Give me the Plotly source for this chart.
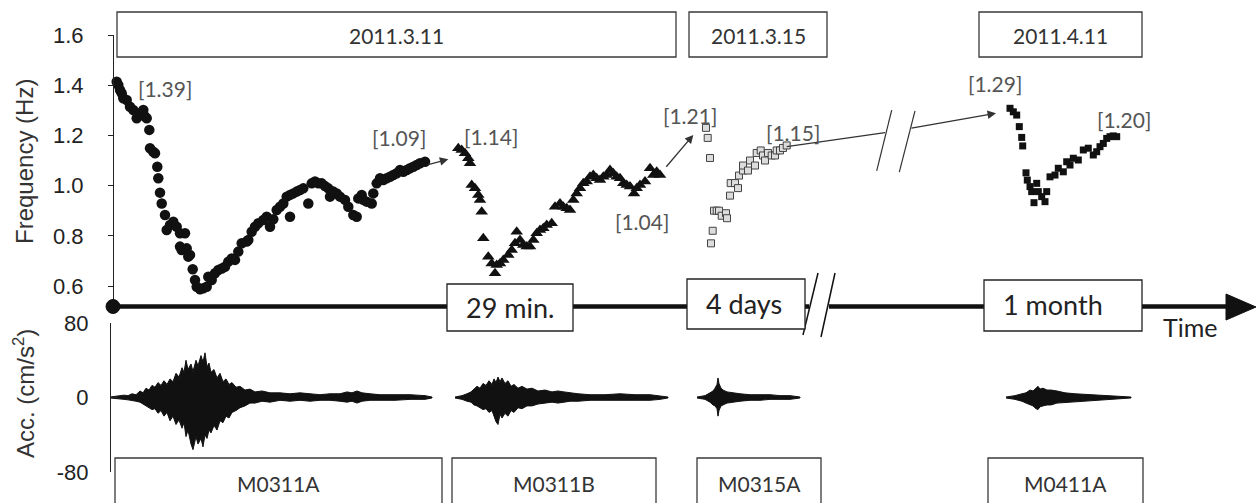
import plotly.graph_objects as go

W, H = 1256, 503

# ---------------- data (x = schematic time position, y = frequency in Hz) -------------
m0311a_x = [116.7,118.3,120.0,121.7,123.3,126.7,130.0,133.3,136.7,140.0,143.3,145.0,146.7,149.3,150.0,
            153.3,155.0,157.3,158.3,160.0,161.7,165.0,166.7,170.0,173.3,176.7,180.0,185.0,180.0,181.7,
            186.7,188.3,190.0,192.7,195.0,196.7,200.0,203.3,206.7,208.3,211.7,215.0,218.3,221.7,225.0,
            228.3,231.7,235.0,238.3,241.7,246.7,248.3,251.7,255.0,258.3,263.3,266.7,270.0,273.3,276.7,
            280.0,283.3,286.7,290.0,290.0,293.3,296.7,300.0,303.3,308.3,311.7,315.0,318.3,321.7,325.0,
            328.3,330.0,333.3,336.7,340.0,345.0,348.3,353.3,356.7,358.3,361.7,363.3,366.7,371.7,373.3,
            376.7,380.0,383.3,386.7,390.0,393.3,396.7,400.0,403.3,406.7,410.0,413.3,416.7,420.0,425.0]
m0311a_f = [1.414,1.401,1.381,1.368,1.348,1.341,1.314,1.301,1.268,1.288,1.301,1.275,1.268,1.222,1.149,
            1.135,1.129,1.075,1.029,0.972,0.929,0.883,0.823,0.843,0.856,0.836,0.810,0.810,0.757,0.743,
            0.750,0.717,0.724,0.667,0.624,0.597,0.587,0.591,0.597,0.637,0.624,0.651,0.664,0.670,0.677,
            0.697,0.710,0.704,0.737,0.770,0.777,0.783,0.816,0.836,0.850,0.863,0.876,0.836,0.866,0.903,
            0.916,0.929,0.956,0.963,0.876,0.969,0.976,0.982,0.989,0.929,1.009,1.016,1.009,1.009,0.998,
            0.989,0.956,0.976,0.969,0.956,0.943,0.916,0.883,0.876,0.949,0.963,0.943,0.936,0.929,0.969,
            1.009,1.029,1.022,1.029,1.035,1.042,1.049,1.062,1.055,1.062,1.069,1.075,1.082,1.089,1.095]

m0311b_x = [458.3,461.7,465.0,468.3,470.0,471.7,475.0,478.3,480.0,481.7,483.3,488.3,491.7,495.0,496.7,
            500.0,503.3,508.3,511.7,515.0,516.7,520.0,523.3,526.7,530.0,533.3,536.7,540.0,543.3,546.7,
            551.7,555.0,560.0,563.3,566.7,570.0,573.3,576.7,580.0,583.3,586.7,590.0,593.3,596.7,600.0,
            603.3,606.7,610.0,613.3,616.7,620.0,623.3,626.7,630.0,634.0,636.7,640.0,645.0,650.0,653.3,
            656.7,660.0]
m0311b_f = [1.149,1.142,1.129,1.109,1.089,1.002,0.989,0.963,0.943,0.896,0.790,0.717,0.690,0.651,0.684,
            0.690,0.704,0.724,0.743,0.770,0.816,0.783,0.763,0.757,0.757,0.783,0.810,0.823,0.830,0.843,
            0.850,0.916,0.929,0.916,0.910,0.903,0.943,0.969,0.989,1.009,1.016,1.035,1.042,1.029,1.022,
            1.035,1.042,1.062,1.049,1.035,1.029,1.009,1.002,0.996,0.969,0.989,1.002,1.016,1.069,1.042,
            1.055,1.042]

m0315a_x = [706.0,707.7,710.0,711.0,712.7,714.0,716.7,719.0,721.7,726.0,727.0,730.0,730.7,735.0,738.0,
            739.0,743.0,743.0,748.0,750.0,755.0,756.7,760.7,763.0,765.0,768.0,771.7,775.0,776.7,780.0,
            783.0,786.7]
m0315a_f = [1.230,1.190,1.110,0.770,0.820,0.900,0.900,0.900,0.880,0.890,0.870,0.960,1.010,1.010,0.990,
            1.040,1.060,1.080,1.060,1.100,1.080,1.130,1.140,1.120,1.100,1.130,1.120,1.120,1.140,1.140,
            1.150,1.160]

m0411a_x = [1010.0,1013.3,1016.7,1019.3,1021.7,1022.7,1026.0,1027.3,1030.0,1031.7,1034.0,1036.7,1038.3,
            1041.7,1045.0,1046.7,1050.0,1055.0,1058.3,1063.3,1066.7,1070.0,1073.3,1078.3,1083.3,1088.3,
            1093.3,1096.7,1100.0,1103.3,1106.7,1110.0,1113.3,1116.7]
m0411a_f = [1.308,1.294,1.281,1.235,1.192,1.158,1.051,1.022,0.996,0.976,0.932,1.009,0.976,0.956,0.936,
            0.976,1.035,1.042,1.069,1.055,1.095,1.082,1.109,1.102,1.142,1.149,1.122,1.135,1.155,1.168,
            1.188,1.195,1.198,1.195]

# acceleration envelopes (cm/s^2)
acc_a_x = [110,118,124,128,132,136,140,143,146,149,152,155,158,161,164,167,170,173,176,179,
           182,184,186,188,191,193,196,198,201,203,205,207,209,211,214,217,220,223,226,229,
           232,236,240,245,250,255,262,270,280,290,300,310,320,330,340,347,352,357,362,370,
           380,395,410,425,432]
acc_a_up = [0.5,1.5,2.5,2,4,3,7,5,10,8,13,11,16,13,18,14,20,17,26,22,
            32,27,40,30,36,28,40,34,45,38,48,33,37,27,30,21,26,17,20,14,
            16,11,12,8,9,6,7,5,5,4,5,4,3,4,4,6,5,7,5,4,
            3,3,3,2,0.5]
acc_a_lo = [-0.5,-1.5,-2,-2.5,-3,-4,-5,-7,-9,-11,-13,-12,-17,-14,-20,-16,-25,-20,-29,-24,
            -33,-27,-42,-35,-50,-56,-42,-50,-44,-53,-40,-44,-35,-38,-30,-35,-25,-27,-20,-22,
            -16,-14,-11,-9,-6,-6,-4,-5,-3,-4,-3,-4,-3,-3,-4,-5,-4,-6,-4,-3,
            -3,-3,-2,-2,-0.5]

acc_b_x = [455,462,467,471,474,477,480,483,486,489,492,494,496,498,500,502,505,508,511,514,
           518,522,527,532,538,545,552,558,564,570,578,590,605,620,635,650,660,668]
acc_b_up = [0.5,2,4,6,9,12,10,15,13,18,14,20,16,22,17,21,15,18,12,14,
            10,12,9,10,7,8,6,7,6,5,4,3,3,4,3,3,2,0.5]
acc_b_lo = [-0.5,-2,-4,-5,-8,-9,-11,-13,-12,-16,-14,-20,-26,-29,-18,-22,-17,-20,-14,-16,
            -11,-12,-9,-9,-7,-6,-5,-6,-5,-4,-4,-3,-3,-3,-3,-3,-2,-0.5]

acc_c_x = [697,705,710,713,715,717,718,719,721,723,727,733,740,750,760,770,780,790,800]
acc_c_up = [0.5,2,5,7,10,14,21,15,10,8,6,5,4,3,3,3,2,2,0.5]
acc_c_lo = [-0.5,-2,-5,-8,-9,-12,-20,-14,-9,-8,-6,-5,-4,-3,-3,-2,-2,-2,-0.5]

acc_d_x = [1006,1015,1022,1026,1030,1033,1036,1038,1040,1043,1047,1051,1057,1065,1075,1090,1110,1131]
acc_d_up = [0.5,2,4,5,8,7,10,12,9,10,8,8,7,5,4,3,2,0.5]
acc_d_lo = [-0.5,-2,-4,-6,-8,-9,-12,-13,-10,-9,-8,-8,-6,-5,-4,-3,-2,-0.5]

freq_ticks = [0.6, 0.8, 1.0, 1.2, 1.4, 1.6]
freq_ticktext = ["0.6", "0.8", "1.0", "1.2", "1.4", "1.6"]
acc_ticks = [-80, 0, 80]
acc_ticktext = ["-80", "0", "80"]

date_labels = ["2011.3.11", "2011.3.15", "2011.4.11"]
record_labels = ["M0311A", "M0311B", "M0315A", "M0411A"]
interval_labels = ["29 min.", "4 days", "1 month"]
value_labels = ["[1.39]", "[1.09]", "[1.14]", "[1.04]", "[1.21]", "[1.15]", "[1.29]", "[1.20]"]

# ---------------- layout helpers ----------------
def py(p):
    return 1 - p / H

fig = go.Figure()

# frequency scatter series
fig.add_trace(go.Scatter(x=m0311a_x, y=m0311a_f, mode="markers", name="M0311A",
                         marker=dict(symbol="circle", size=10.5, color="#111111"), cliponaxis=False))
fig.add_trace(go.Scatter(x=m0311b_x, y=m0311b_f, mode="markers", name="M0311B",
                         marker=dict(symbol="triangle-up", size=11, color="#111111"), cliponaxis=False))
fig.add_trace(go.Scatter(x=m0315a_x, y=m0315a_f, mode="markers", name="M0315A",
                         marker=dict(symbol="square", size=7, color="#dcdcdc",
                                     line=dict(color="#444444", width=1)), cliponaxis=False))
fig.add_trace(go.Scatter(x=m0411a_x, y=m0411a_f, mode="markers", name="M0411A",
                         marker=dict(symbol="square", size=7, color="#111111"), cliponaxis=False))

# acceleration waveforms (envelopes)
for xs, up, lo in [(acc_a_x, acc_a_up, acc_a_lo), (acc_b_x, acc_b_up, acc_b_lo),
                   (acc_c_x, acc_c_up, acc_c_lo), (acc_d_x, acc_d_up, acc_d_lo)]:
    fig.add_trace(go.Scatter(x=list(xs) + list(xs[::-1]), y=list(up) + list(lo[::-1]),
                             mode="lines", fill="toself", fillcolor="#111111",
                             line=dict(color="#111111", width=1), yaxis="y2",
                             hoverinfo="skip", cliponaxis=False))

tickfont = dict(family="Liberation Sans, Arial, sans-serif", size=22, color="#222222")

fig.update_layout(
    width=W, height=H, margin=dict(l=0, r=0, t=0, b=0, autoexpand=False),
    paper_bgcolor="white", plot_bgcolor="white", showlegend=False,
    xaxis=dict(range=[0, W], domain=[0, 1], visible=False, anchor="y", automargin=False),
    yaxis=dict(domain=[py(306), py(35)], range=[1.6 - (306 - 35) / 251, 1.6],
               anchor="free", position=113 / W, showline=True, linecolor="#222", linewidth=1.2,
               tickvals=freq_ticks, ticktext=freq_ticktext, ticks="outside", ticklen=5,
               tickcolor="#222", tickfont=tickfont, showgrid=False, zeroline=False,
               ticklabelstandoff=20, automargin=False),
    yaxis2=dict(domain=[py(472), py(323)], range=[-80, 80],
                anchor="free", position=110 / W, showline=True, linecolor="#222", linewidth=1.2,
                tickvals=acc_ticks, ticktext=acc_ticktext, ticks="inside", ticklen=6,
                tickcolor="#222", tickfont=tickfont, showgrid=False, zeroline=False,
                ticklabelstandoff=17, automargin=False),
)

shapes = []
box_line = dict(color="#3a3a3a", width=1.3)

# date boxes (top)
for (x0, x1) in [(117, 676), (689, 827), (979, 1142)]:
    shapes.append(dict(type="rect", xref="x", yref="paper", x0=x0, x1=x1, y0=py(57), y1=py(12),
                       line=box_line, fillcolor="rgba(0,0,0,0)"))
# record boxes (bottom)
for (x0, x1) in [(115, 442), (452, 656), (697, 821), (988, 1143)]:
    shapes.append(dict(type="rect", xref="x", yref="paper", x0=x0, x1=x1, y0=py(506), y1=py(458),
                       line=box_line, fillcolor="rgba(0,0,0,0)"))

# time axis
shapes.append(dict(type="line", xref="x", yref="paper", x0=113, x1=1230, y0=py(306.5), y1=py(306.5),
                   line=dict(color="#111", width=4.5)))
shapes.append(dict(type="path", xref="x", yref="paper",
                   path=f"M 1226,{py(294)} L 1256,{py(307)} L 1226,{py(320)} Z",
                   fillcolor="#111", line=dict(color="#111", width=1)))
shapes.append(dict(type="circle", xref="x", yref="paper", x0=106, x1=120, y0=py(313.5), y1=py(299.5),
                   fillcolor="#111", line=dict(color="#111", width=1)))
# break gap + slashes on time axis
shapes.append(dict(type="rect", xref="x", yref="paper", x0=809, x1=829, y0=py(312), y1=py(300),
                   fillcolor="white", line=dict(width=0)))
shapes.append(dict(type="line", xref="x", yref="paper", x0=818, y0=py(273), x1=803, y1=py(335),
                   line=dict(color="#111", width=1.5)))
shapes.append(dict(type="line", xref="x", yref="paper", x0=835, y0=py(273), x1=821, y1=py(337),
                   line=dict(color="#111", width=1.5)))
# interval boxes on time axis
for (x0, x1, t, b) in [(447, 573, 284, 331), (687, 805, 279, 329), (984, 1142, 280, 331)]:
    shapes.append(dict(type="rect", xref="x", yref="paper", x0=x0, x1=x1, y0=py(b), y1=py(t),
                       fillcolor="white", line=dict(color="#222", width=1.3)))

# connector line to break (no head) and break slashes in the frequency panel
shapes.append(dict(type="line", xref="x", yref="y", x0=786.7, y0=1.155, x1=885, y1=1.211,
                   line=dict(color="#333", width=1.2)))
shapes.append(dict(type="line", xref="x", yref="y", x0=891.7, y0=1.301, x1=876.7, y1=1.059,
                   line=dict(color="#333", width=1.2)))
shapes.append(dict(type="line", xref="x", yref="y", x0=915, y0=1.298, x1=899.3, y1=1.054,
                   line=dict(color="#333", width=1.2)))

fig.update_layout(shapes=shapes)

ann = []
lato = "Lato, Open Sans, sans-serif"
C = dict(xanchor="center", yanchor="middle", showarrow=False)
for lab, xc in zip(date_labels, [396, 758, 1060]):
    ann.append(dict(x=xc, y=py(35), xref="x", yref="paper", text=lab,
                    font=dict(family=lato, size=21, color="#333"), **C))
for lab, xc in zip(record_labels, [278, 554, 759, 1065]):
    ann.append(dict(x=xc, y=py(483), xref="x", yref="paper", text=lab,
                    font=dict(family=lato, size=21, color="#333"), **C))
for lab, xc, yc in zip(interval_labels, [510, 744, 1053], [307, 303, 304]):
    ann.append(dict(x=xc, y=py(yc), xref="x", yref="paper", text=lab,
                    font=dict(family=lato, size=27, color="#222"), **C))
ann.append(dict(x=1190, y=py(327), xref="x", yref="paper", text="Time",
                font=dict(family=lato, size=25, color="#222"), **C))

# value labels in the frequency panel
for lab, xc, pyc in zip(value_labels, [165, 399, 491, 642, 690, 793, 995, 1124],
                        [88, 137, 136, 221, 115, 132, 83, 119]):
    ann.append(dict(x=xc, y=1.6 - (pyc - 35) / 251, xref="x", yref="y", text=lab,
                    font=dict(family=lato, size=21, color="#555"), **C))

# arrows
for (tx, ty, hx, hy) in [(426.7, 1.082, 448.3, 1.105), (665, 1.069, 693.3, 1.202),
                         (910, 1.228, 996, 1.288)]:
    ann.append(dict(x=hx, y=hy, ax=tx, ay=ty, xref="x", yref="y", axref="x", ayref="y",
                    text="", showarrow=True, arrowhead=2, arrowsize=1.3, arrowwidth=1.3,
                    arrowcolor="#333"))

# axis titles
ann.append(dict(x=24 / W, y=py(162), xref="paper", yref="paper", text="Frequency (Hz)",
                textangle=-90,
                font=dict(family="Liberation Sans, Arial, sans-serif", size=24, color="#333"), **C))
ann.append(dict(x=24 / W, y=py(394), xref="paper", yref="paper", text="Acc. (cm/s<sup>2</sup>)",
                textangle=-90,
                font=dict(family="Liberation Sans, Arial, sans-serif", size=24, color="#333"), **C))

fig.update_layout(annotations=ann)
fig.write_html("out.html")
